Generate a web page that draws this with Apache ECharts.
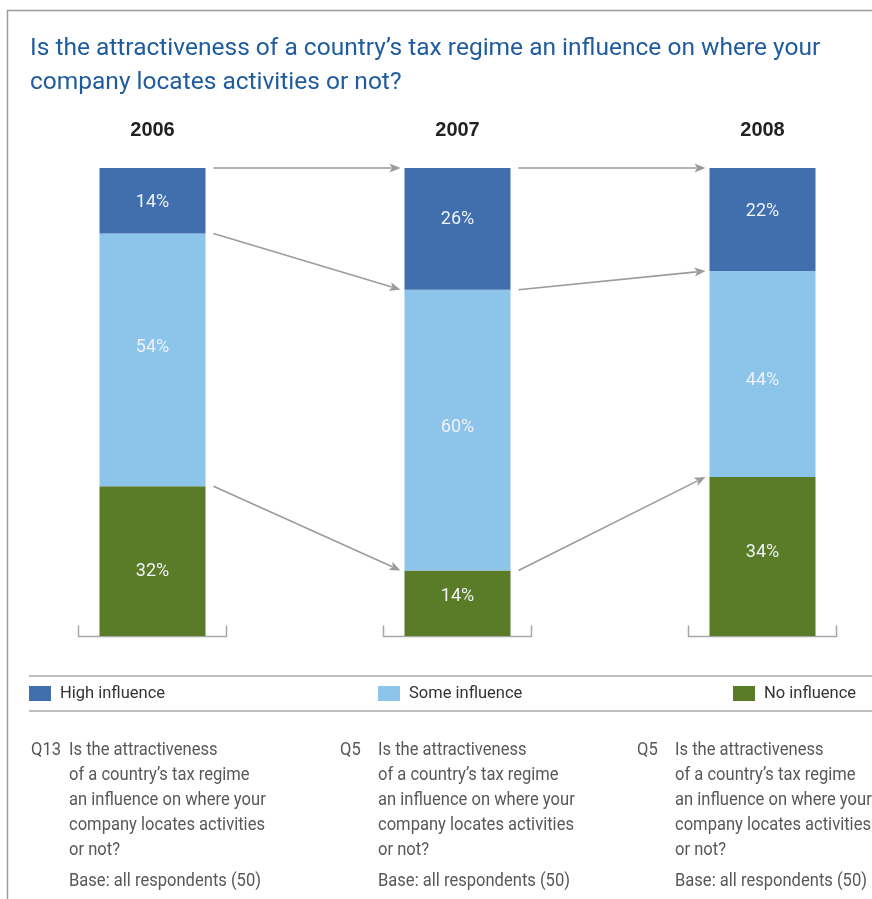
<!DOCTYPE html>
<html>
<head>
<meta charset="utf-8">
<script src="https://cdn.jsdelivr.net/npm/echarts@6/dist/echarts.min.js"></script>
<style>
  html, body { margin: 0; padding: 0; background: #fff; }
  #chart { width: 872px; height: 899px; }
</style>
</head>
<body>
<div id="chart"></div>
<script>
// Survey years and answer shares (percent of respondents)
const years = ['2006', '2007', '2008'];
const highInfluence = [14, 26, 22];
const someInfluence = [54, 60, 44];
const noInfluence = [32, 14, 34];

const seriesNames = ['High influence', 'Some influence', 'No influence'];
const titleText = 'Is the attractiveness of a country\u2019s tax regime an influence on where your\ncompany locates activities or not?';
const questionCodes = ['Q13', 'Q5', 'Q5'];
const questionLines = [
  'Is the attractiveness',
  'of a country\u2019s tax regime',
  'an influence on where your',
  'company locates activities',
  'or not?'
];
const baseNote = 'Base: all respondents (50)';

// Vertical nudges (px) for the value labels inside each segment
const labelNudgeHigh = [2, -9, -8];
const labelNudgeSome = [-12, -3, 7];
const labelNudgeNo = [10, -7, -4];

const COLORS = { high: '#416ead', some: '#8dc4ea', no: '#5a7b27' };
const FONT = "Roboto, 'Noto Sans', sans-serif";
const ARROW = '#9b9b9b';
const HALF_BAR = 53;
const NARROW_SCALE = 0.92;   // horizontal squeeze giving a condensed look

// Boundaries between stacked segments, from the top of the stack down
const boundaries = years.map((_, i) => [
  noInfluence[i] + someInfluence[i] + highInfluence[i],
  noInfluence[i] + someInfluence[i],
  noInfluence[i]
]);
// One arrow per boundary between consecutive years
const arrowData = [];
for (let i = 0; i < years.length - 1; i++) {
  for (let k = 0; k < 3; k++) {
    arrowData.push([i, boundaries[i][k], boundaries[i + 1][k]]);
  }
}

const chart = echarts.init(document.getElementById('chart'), null, { renderer: 'canvas' });

const segLabel = {
  show: true,
  position: 'inside',
  formatter: '{c}%',
  color: '#eef3f8',
  fontFamily: FONT,
  fontWeight: 'normal',
  fontSize: 18
};

function withNudges(values, nudges) {
  return values.map((v, i) => ({ value: v, label: { offset: [0, nudges[i]] } }));
}

function legendAt(name, left) {
  return {
    data: [name],
    left: left,
    top: 685,
    icon: 'rect',
    itemWidth: 22,
    itemHeight: 15,
    padding: 0,
    selectedMode: false,
    textStyle: { color: '#333', fontFamily: FONT, fontSize: 16.5, padding: [0, 0, 0, 4] }
  };
}

function narrowText(text, x, y, lineHeight) {
  return {
    type: 'text',
    x: x,
    y: y,
    scaleX: NARROW_SCALE,
    style: {
      text: text,
      fill: '#585858',
      font: '18px ' + FONT,
      lineHeight: lineHeight || 25,
      verticalAlign: 'middle'
    }
  };
}

const footCols = [31, 340, 637];
const footGraphics = [];
questionCodes.forEach((code, i) => {
  const x = footCols[i];
  footGraphics.push(narrowText(code, x, 750));
  footGraphics.push(narrowText(questionLines.join('\n'), x + 38, 800));
  footGraphics.push(narrowText(baseNote, x + 38, 881));
});

const option = {
  animation: false,
  backgroundColor: '#fff',
  title: {
    text: titleText,
    left: 30,
    top: 32,
    padding: 0,
    textStyle: {
      color: '#1f5c9f',
      fontFamily: FONT,
      fontWeight: 'normal',
      fontSize: 24.5,
      lineHeight: 34
    }
  },
  legend: [
    legendAt(seriesNames[0], 29),
    legendAt(seriesNames[1], 378),
    legendAt(seriesNames[2], 733)
  ],
  grid: { left: 0, width: 915, top: 168, height: 468, outerBoundsMode: 'none', containLabel: false },
  xAxis: {
    type: 'category',
    data: years,
    position: 'top',
    axisLine: { show: false },
    axisTick: { show: false },
    axisLabel: {
      margin: 28,
      color: '#222',
      fontFamily: "'Liberation Sans', Arial, sans-serif",
      fontWeight: 'bold',
      fontSize: 20
    }
  },
  yAxis: {
    type: 'value',
    min: 0,
    max: 100,
    show: false,
    splitLine: { show: false }
  },
  series: [
    {
      name: seriesNames[2], type: 'bar', stack: 'share', barWidth: 106,
      data: withNudges(noInfluence, labelNudgeNo), itemStyle: { color: COLORS.no }, label: segLabel
    },
    {
      name: seriesNames[1], type: 'bar', stack: 'share', barWidth: 106,
      data: withNudges(someInfluence, labelNudgeSome), itemStyle: { color: COLORS.some }, label: segLabel
    },
    {
      name: seriesNames[0], type: 'bar', stack: 'share', barWidth: 106,
      data: withNudges(highInfluence, labelNudgeHigh), itemStyle: { color: COLORS.high }, label: segLabel
    },
    {
      // Arrows linking each segment boundary to the same boundary next year
      type: 'custom',
      silent: true,
      z: 5,
      data: arrowData,
      renderItem: function (params, api) {
        const i = api.value(0);
        const p0 = api.coord([i, api.value(1)]);
        const p1 = api.coord([i + 1, api.value(2)]);
        const x0 = p0[0] + HALF_BAR + 8;
        const x1 = p1[0] - HALF_BAR - 4;
        const y0 = p0[1];
        const y1 = p1[1];
        const ang = Math.atan2(y1 - y0, x1 - x0);
        const len = 11, w = 4.5;
        const bx = x1 - len * Math.cos(ang), by = y1 - len * Math.sin(ang);
        const nx = -Math.sin(ang) * w, ny = Math.cos(ang) * w;
        return {
          type: 'group',
          children: [
            {
              type: 'line',
              shape: { x1: x0, y1: y0, x2: bx + 2 * Math.cos(ang), y2: by + 2 * Math.sin(ang) },
              style: { stroke: ARROW, lineWidth: 1.6 }
            },
            {
              type: 'polygon',
              shape: { points: [[x1, y1], [bx + nx, by + ny], [bx + 2.5 * Math.cos(ang), by + 2.5 * Math.sin(ang)], [bx - nx, by - ny]] },
              style: { fill: ARROW }
            }
          ]
        };
      }
    },
    {
      // Base brackets under each bar
      type: 'custom',
      silent: true,
      z: 1,
      data: years.map((_, i) => [i, 0]),
      renderItem: function (params, api) {
        const p = api.coord([api.value(0), api.value(1)]);
        const xl = p[0] - 74, xr = p[0] + 74, y = p[1] + 0.5;
        return {
          type: 'polyline',
          shape: { points: [[xl, y - 11], [xl, y], [xr, y], [xr, y - 11]] },
          style: { stroke: '#a8a8a8', lineWidth: 1.5, fill: null }
        };
      }
    }
  ],
  graphic: [
    // Frame: top rule and left rule
    { type: 'line', shape: { x1: 7, y1: 10.5, x2: 872, y2: 10.5 }, style: { stroke: '#9a9a9a', lineWidth: 1.5 } },
    { type: 'line', shape: { x1: 7.5, y1: 10, x2: 7.5, y2: 899 }, style: { stroke: '#9a9a9a', lineWidth: 1.5 } },
    // Legend band rules
    { type: 'line', shape: { x1: 29, y1: 676, x2: 872, y2: 676 }, style: { stroke: '#aaaaaa', lineWidth: 1.5 } },
    { type: 'line', shape: { x1: 29, y1: 711, x2: 872, y2: 711 }, style: { stroke: '#aaaaaa', lineWidth: 1.5 } }
  ].concat(footGraphics)
};

chart.setOption(option);
</script>
</body>
</html>
